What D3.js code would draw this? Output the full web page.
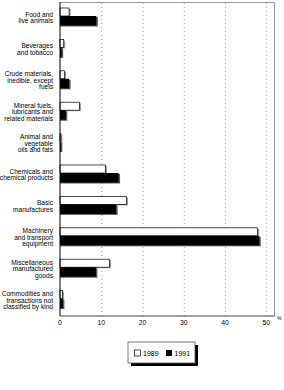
<!DOCTYPE html>
<html>
<head>
<meta charset="utf-8">
<script src="https://cdn.jsdelivr.net/npm/d3@7"></script>
<style>
  body { margin: 0; background: #fff; }
  text { font-family: "Liberation Sans", Arial, sans-serif; }
</style>
</head>
<body>
<div id="chart"></div>
<script>
const categories = [
  ["Food and", "live animals"],
  ["Beverages", "and tobacco"],
  ["Crude materials,", "inedible, except", "fuels"],
  ["Mineral fuels,", "lubricants and", "related materials"],
  ["Animal and", "vegetable", "oils and fats"],
  ["Chemicals and", "chemical products"],
  ["Basic", "manufactures"],
  ["Machinery", "and transport", "equipment"],
  ["Miscellaneous", "manufactured", "goods"],
  ["Commodities and", "transactions not", "classified by kind"]
];
const values1989 = [2.2, 0.9, 1.1, 4.7, 0.2, 11.0, 16.1, 47.9, 12.0, 0.6];
const values1991 = [8.8, 0.4, 2.2, 1.4, 0.2, 14.2, 13.6, 48.3, 8.7, 0.7];
const xTicks = [0, 10, 20, 30, 40, 50];

const W = 284, H = 390;
const svg = d3.select("#chart")
              .append("svg")
              .attr("width", W)
              .attr("height", H);

const x = d3.scaleLinear()
            .domain([0, 52])
            .range([60, 274.5]);

const y = d3.scaleBand()
            .domain(d3.range(categories.length))
            .range([2, 316]);

// frame (top + right) and dotted grid
svg.append("path")
   .attr("d", `M${x(0)},2.5H274.5V316`)
   .attr("fill", "none")
   .attr("stroke", "#999")
   .attr("stroke-width", 1);

svg.selectAll(".grid")
   .data(xTicks.slice(1))
   .enter()
   .append("line")
   .attr("x1", d => x(d) + 0.5)
   .attr("x2", d => x(d) + 0.5)
   .attr("y1", 3)
   .attr("y2", 316)
   .attr("stroke", "#888")
   .attr("stroke-width", 0.8)
   .attr("stroke-dasharray", "1,3");

const data = categories.map((c, i) => ({ i, label: c, v89: values1989[i], v91: values1991[i] }));

const g = svg.selectAll(".cat")
             .data(data)
             .enter()
             .append("g");

// 1989: white bar with grey 3D edge
g.append("rect")
 .attr("x", x(0))
 .attr("y", d => y(d.i) + 7)
 .attr("width", d => x(d.v89) - x(0) + 1.5)
 .attr("height", 8)
 .attr("fill", "#999");
g.append("rect")
 .attr("x", x(0))
 .attr("y", d => y(d.i) + 6)
 .attr("width", d => x(d.v89) - x(0))
 .attr("height", 8)
 .attr("fill", "#fff")
 .attr("stroke", "#000")
 .attr("stroke-width", 0.7);

// 1991: black bar with dark shadow
g.append("rect")
 .attr("x", x(0))
 .attr("y", d => y(d.i) + 15)
 .attr("width", d => x(d.v91) - x(0) + 1.5)
 .attr("height", 9.5)
 .attr("fill", "#555");
g.append("rect")
 .attr("x", x(0))
 .attr("y", d => y(d.i) + 14)
 .attr("width", d => x(d.v91) - x(0))
 .attr("height", 9.5)
 .attr("fill", "#000");

// category labels
g.each(function(d) {
  const lines = d.label;
  const lh = 6.4;
  const cy = y(d.i) + y.bandwidth() / 2;
  const t = d3.select(this).append("text")
              .attr("x", 53)
              .attr("text-anchor", "end")
              .style("font-size", "6.6px")
              .style("fill", "#000");
  lines.forEach((s, k) => {
    t.append("tspan")
     .attr("x", 53)
     .attr("y", cy + (k - (lines.length - 1) / 2) * lh + 2.3)
     .text(s);
  });
});

// axes
svg.append("line")
   .attr("x1", x(0)).attr("x2", x(0))
   .attr("y1", 2).attr("y2", 316)
   .attr("stroke", "#000").attr("stroke-width", 1);

svg.append("line")
   .attr("x1", x(0)).attr("x2", 274.5)
   .attr("y1", 316).attr("y2", 316)
   .attr("stroke", "#444").attr("stroke-width", 1);

svg.selectAll(".tick")
   .data(xTicks)
   .enter()
   .append("text")
   .attr("x", d => x(d))
   .attr("y", 325)
   .attr("text-anchor", "middle")
   .style("font-size", "6.8px")
   .text(d => d);

svg.append("text")
   .attr("x", 277)
   .attr("y", 320)
   .style("font-size", "5px")
   .text("%");

// legend
const lg = svg.append("g").attr("transform", "translate(128,342)");
lg.append("rect").attr("x", 3).attr("y", 3).attr("width", 67).attr("height", 21).attr("fill", "#000");
lg.append("rect").attr("x", 0).attr("y", 0).attr("width", 67).attr("height", 21)
  .attr("fill", "#fff").attr("stroke", "#555").attr("stroke-width", 0.8);
lg.append("rect").attr("x", 6.5).attr("y", 8).attr("width", 6).attr("height", 6)
  .attr("fill", "#fff").attr("stroke", "#000").attr("stroke-width", 0.7);
lg.append("text").attr("x", 15).attr("y", 13.8).style("font-size", "7px").text("1989");
lg.append("rect").attr("x", 38).attr("y", 8).attr("width", 6).attr("height", 6).attr("fill", "#000");
lg.append("text").attr("x", 46.5).attr("y", 13.8).style("font-size", "7px").text("1991");
</script>
</body>
</html>
